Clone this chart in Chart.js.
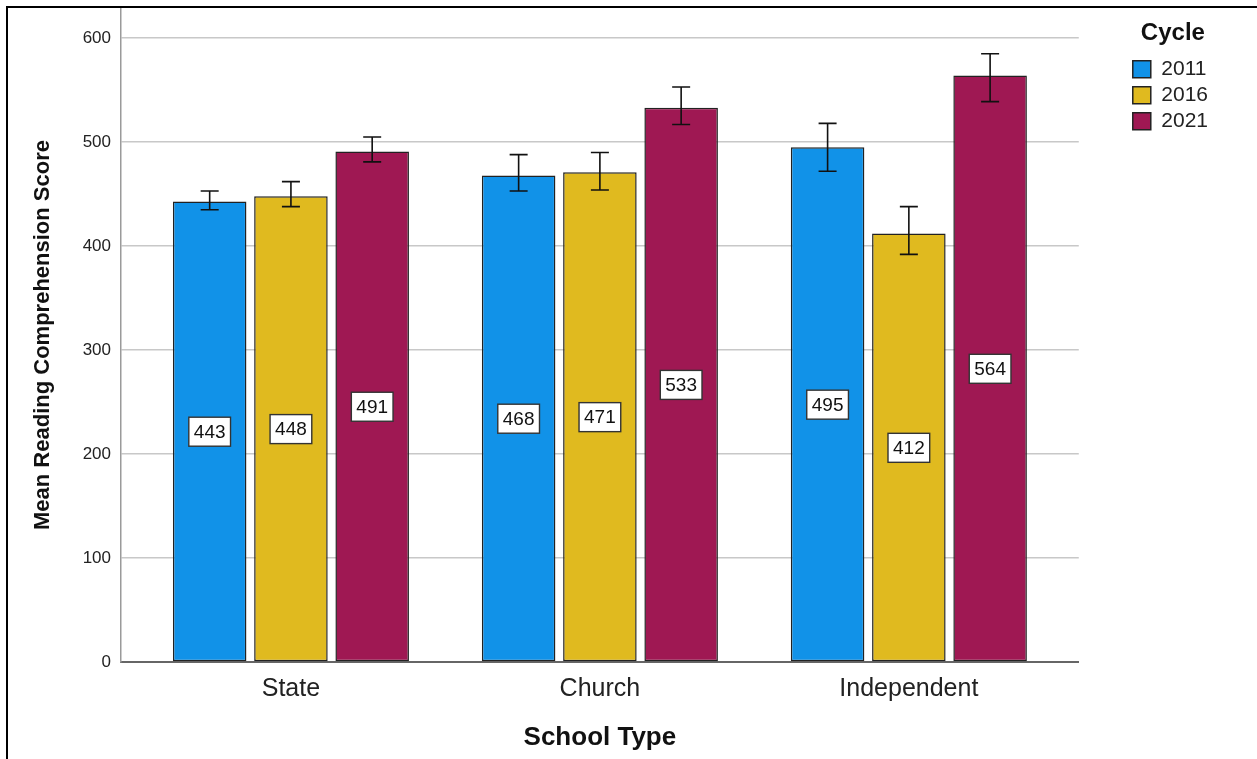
<!DOCTYPE html>
<html>
<head>
<meta charset="utf-8">
<script src="https://cdn.jsdelivr.net/npm/chart.js@4.4.1/dist/chart.umd.min.js"></script>
<style>
  html, body { margin: 0; padding: 0; background: #ffffff; overflow: hidden; }
  #wrap { position: relative; width: 1257px; height: 759px; }
  #c { position: absolute; left: 0; top: 0; }
  #frame { position: absolute; left: 6px; top: 6px; width: 1249px; height: 800px; border: 2px solid #000; pointer-events: none; }
</style>
</head>
<body>
<div id="wrap">
  <canvas id="c" width="1257" height="759"></canvas>
  <div id="frame"></div>
</div>
<script>
// ---- data ----
const categories = ['State', 'Church', 'Independent'];
const cycles = ['2011', '2016', '2021'];
const means2011 = [443, 468, 495];
const means2016 = [448, 471, 412];
const means2021 = [491, 533, 564];
const ciLow2011 = [435, 453, 472];
const ciHigh2011 = [453, 488, 518];
const ciLow2016 = [438, 454, 392];
const ciHigh2016 = [462, 490, 438];
const ciLow2021 = [481, 517, 539];
const ciHigh2021 = [505, 553, 585];
const yTickValues = [0, 100, 200, 300, 400, 500, 600];

const FONT = "'Liberation Sans', Arial, sans-serif";
const colors = ['#1192e8', '#e0ba1f', '#9f1853'];
const seriesMeans = [means2011, means2016, means2021];
const seriesLow = [ciLow2011, ciLow2016, ciLow2021];
const seriesHigh = [ciHigh2011, ciHigh2016, ciHigh2021];

const datasets = cycles.map((c, k) => ({
  label: c,
  data: seriesMeans[k].map((v, i) => ({ x: i, y: v })),
  ciLow: seriesLow[k],
  ciHigh: seriesHigh[k],
  backgroundColor: colors[k],
  borderColor: '#222',
  borderWidth: 1.5,
  borderSkipped: false,
  categoryPercentage: 0.789,
  barPercentage: 0.905,
  xAxisID: 'x',
  yAxisID: 'y'
}));

const errorBars = {
  id: 'errorBars',
  afterDatasetsDraw(chart) {
    const ctx = chart.ctx;
    const y = chart.scales.y;
    ctx.save();
    ctx.strokeStyle = '#111';
    ctx.lineWidth = 1.6;
    chart.data.datasets.forEach((ds, k) => {
      const meta = chart.getDatasetMeta(k);
      meta.data.forEach((bar, i) => {
        const x = bar.x;
        const yl = y.getPixelForValue(ds.ciLow[i]);
        const yh = y.getPixelForValue(ds.ciHigh[i]);
        const hw = 9;
        ctx.beginPath();
        ctx.moveTo(x, yl); ctx.lineTo(x, yh);
        ctx.moveTo(x - hw, yl); ctx.lineTo(x + hw, yl);
        ctx.moveTo(x - hw, yh); ctx.lineTo(x + hw, yh);
        ctx.stroke();
      });
    });
    ctx.restore();
  }
};

const valueLabels = {
  id: 'valueLabels',
  afterDatasetsDraw(chart) {
    const ctx = chart.ctx;
    const y = chart.scales.y;
    ctx.save();
    ctx.font = '19px ' + FONT;
    ctx.textAlign = 'center';
    ctx.textBaseline = 'middle';
    chart.data.datasets.forEach((ds, k) => {
      const meta = chart.getDatasetMeta(k);
      meta.data.forEach((bar, i) => {
        const v = ds.data[i].y;
        const txt = String(v);
        const cx = bar.x;
        const cy = y.getPixelForValue(v / 2);
        const w = ctx.measureText(txt).width + 10;
        const h = 29;
        ctx.fillStyle = '#ffffff';
        ctx.fillRect(cx - w / 2, cy - h / 2, w, h);
        ctx.strokeStyle = '#333';
        ctx.lineWidth = 1.4;
        ctx.strokeRect(cx - w / 2, cy - h / 2, w, h);
        ctx.fillStyle = '#111';
        ctx.fillText(txt, cx, cy + 1);
      });
    });
    ctx.restore();
  }
};

new Chart(document.getElementById('c'), {
  type: 'bar',
  data: { datasets },
  options: {
    responsive: false,
    animation: false,
    devicePixelRatio: 1,
    layout: { padding: { top: 8, left: 0, right: 39, bottom: 0 } },
    plugins: {
      tooltip: { enabled: false },
      legend: {
        position: 'right',
        align: 'start',
        title: {
          display: true,
          text: 'Cycle',
          position: 'center',
          color: '#111',
          font: { family: FONT, size: 24, weight: 'bold' },
          padding: { top: 13, bottom: 4 }
        },
        labels: {
          color: '#222',
          font: { family: FONT, size: 21 },
          boxWidth: 18,
          boxHeight: 17,
          padding: 5
        }
      }
    },
    scales: {
      x: {
        type: 'linear',
        position: 'bottom',
        min: -0.55,
        max: 2.55,
        offset: false,
        grid: { display: false, drawTicks: false },
        border: { display: true, color: '#666', width: 2 },
        afterBuildTicks: (s) => { s.ticks = categories.map((c, i) => ({ value: i })); },
        afterFit: (s) => { s.height = 97; },
        ticks: {
          autoSkip: false,
          maxRotation: 0,
          padding: 12,
          color: '#222',
          font: { family: FONT, size: 25 },
          callback: (v) => categories[v]
        },
        title: {
          display: true,
          text: 'School Type',
          color: '#111',
          font: { family: FONT, size: 26, weight: 'bold' },
          padding: { top: 0, bottom: 6 }
        }
      },
      y: {
        type: 'linear',
        position: 'left',
        min: 0,
        max: 629,
        grid: { color: '#c8c8c8', lineWidth: 1.5, drawTicks: true, tickLength: 10, tickColor: 'rgba(0,0,0,0)' },
        border: { display: true, color: '#9a9a9a', width: 1.5 },
        afterFit: (s) => { s.width = 121; },
        afterBuildTicks: (s) => { s.ticks = yTickValues.map(v => ({ value: v })); },
        ticks: {
          includeBounds: false,
          padding: 0,
          color: '#222',
          font: { family: FONT, size: 17, lineHeight: 0.9 }
        },
        title: {
          display: true,
          text: 'Mean Reading Comprehension Score',
          color: '#111',
          font: { family: FONT, size: 22, weight: 'bold' },
          padding: { top: 30, bottom: 0 }
        }
      },
      pad: {
        type: 'linear',
        axis: 'y',
        position: 'right',
        display: true,
        grid: { display: false, drawTicks: false },
        border: { display: false },
        ticks: { display: false },
        afterFit: (s) => { s.width = 49; }
      }
    }
  },
  plugins: [errorBars, valueLabels]
});
</script>
</body>
</html>
